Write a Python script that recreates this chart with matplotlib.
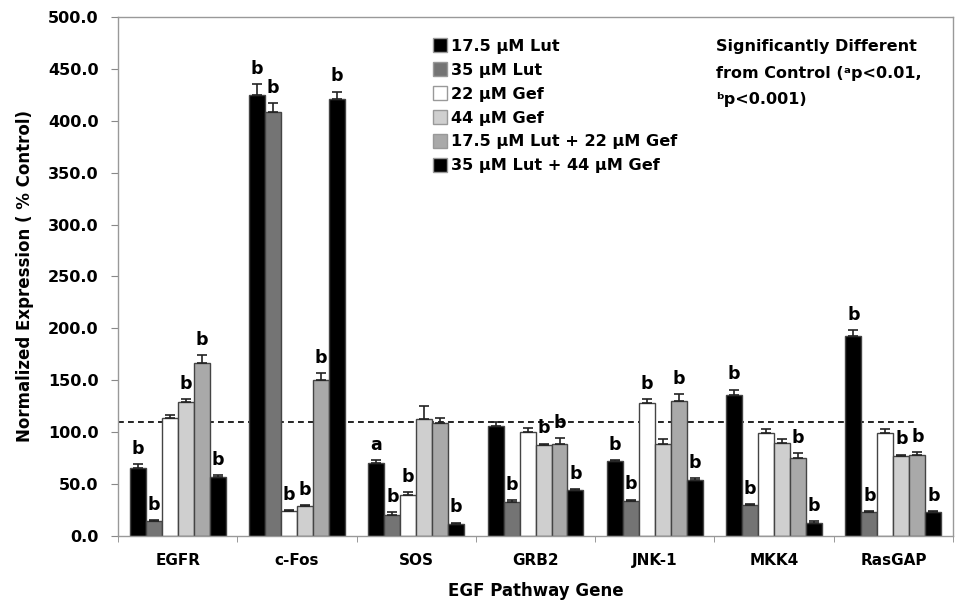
import matplotlib
matplotlib.use("Agg")
import matplotlib.pyplot as plt
from matplotlib.lines import Line2D
import numpy as np

genes = ["EGFR", "c-Fos", "SOS", "GRB2", "JNK-1", "MKK4", "RasGAP"]
treatments = ["17.5 \u00b5M Lut", "35 \u00b5M Lut", "22 \u00b5M Gef", "44 \u00b5M Gef",
              "17.5 \u00b5M Lut + 22 \u00b5M Gef", "35 \u00b5M Lut + 44 \u00b5M Gef"]
colors = ["#000000", "#747474", "#ffffff", "#cfcfcf", "#a9a9a9", "#000000"]

# rows = treatments, cols = genes
values = [
    [66, 425, 70, 106, 72, 136, 193],
    [14, 408, 20, 33, 34, 30, 23],
    [114, 24, 40, 100, 128, 99, 99],
    [129, 29, 113, 88, 89, 90, 77],
    [167, 150, 109, 89, 130, 75, 78],
    [57, 421, 12, 44, 54, 13, 23],
]
errors = [
    [3, 10, 3, 4, 1, 5, 5],
    [1, 9, 3, 1.5, 1, 1, 1],
    [3, 1, 2, 4.5, 4, 4, 4],
    [3, 1, 12, 1, 4, 3, 1.5],
    [7, 7, 5, 5, 7, 4.5, 3],
    [2, 7, 1, 1.5, 1.5, 1, 1],
]
sig = [
    ["b", "b", "a", "", "b", "b", "b"],
    ["b", "b", "b", "b", "b", "b", "b"],
    ["", "b", "b", "", "b", "", ""],
    ["b", "b", "", "b", "", "", "b"],
    ["b", "b", "", "b", "b", "b", "b"],
    ["b", "b", "b", "b", "b", "b", "b"],
]
control_line = 110

plt.rcParams["font.family"] = "DejaVu Sans"
plt.rcParams["font.weight"] = "bold"

fig = plt.figure(figsize=(9.65, 6.05), dpi=100)
ax = fig.add_axes([0.1223, 0.114, 0.8653, 0.858])

x = np.arange(len(genes))
w = 0.134
for i, t in enumerate(treatments):
    pos = x + (i - 2.5) * w
    ax.bar(pos, values[i], w, color=colors[i], edgecolor="#444444", linewidth=1.0, zorder=2)
    ax.errorbar(pos, values[i], yerr=[np.zeros(len(genes)), errors[i]], fmt="none",
                ecolor="#222222", elinewidth=1.2, capsize=3.5, capthick=1.2, zorder=3)
    for j in range(len(genes)):
        if sig[i][j]:
            ax.text(pos[j], values[i][j] + errors[i][j] + 6, sig[i][j], ha="center", va="bottom",
                    fontsize=12.5, fontweight="bold", color="black", zorder=4)

ax.plot([-0.5, 6.2], [control_line, control_line], color="black", linestyle=(0, (3.5, 2.5)),
        linewidth=1.2, zorder=1)

ax.set_xlim(-0.5, 6.5)
ax.set_ylim(0, 500)
ax.set_yticks(np.arange(0, 501, 50))
ax.set_yticklabels([f"{v:.1f}" for v in np.arange(0, 501, 50)], fontsize=11.5, fontweight="bold")
ax.set_xticks(x)
ax.set_xticklabels(genes, fontsize=11, fontweight="bold")
ax.set_xticks(np.arange(-0.5, 7.0, 1), minor=True)
ax.tick_params(axis="x", which="major", length=0, pad=12)
ax.tick_params(axis="x", which="minor", length=4, color="#888888")
ax.tick_params(axis="y", length=5, color="#888888", pad=9)
for s in ax.spines.values():
    s.set_color("#999999")
    s.set_linewidth(1.0)

ax.set_ylabel("Normalized Expression ( % Control)", fontsize=12, fontweight="bold", labelpad=10)
ax.set_xlabel("EGF Pathway Gene", fontsize=12, fontweight="bold", labelpad=10)

handles = [Line2D([0], [0], marker="s", linestyle="none", markersize=10,
                  markerfacecolor=c, markeredgecolor="#999999") for c in colors]
ax.legend(handles, treatments, loc="upper left", bbox_to_anchor=(0.37, 0.97), frameon=False,
          prop={"size": 11.6, "weight": "bold"}, handlelength=0.8, handletextpad=0.3,
          labelspacing=0.55, borderaxespad=0)

ax.text(0.716, 0.957, "Significantly Different\nfrom Control (\u1d43p<0.01,\n\u1d47p<0.001)",
        transform=ax.transAxes, ha="left", va="top", fontsize=11.5, fontweight="bold",
        linespacing=1.95)

fig.savefig("out.png", dpi=100)
